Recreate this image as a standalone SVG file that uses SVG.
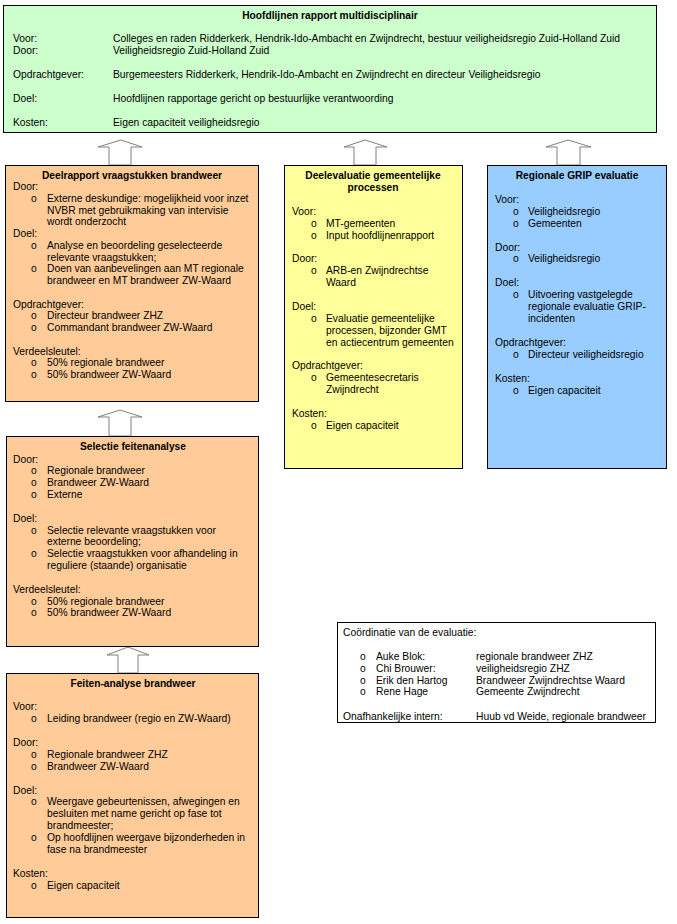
<svg xmlns="http://www.w3.org/2000/svg" width="677" height="924" viewBox="0 0 677 924">
<style>
text{font-family:"Liberation Sans",Arial,sans-serif;font-size:10.3px;fill:#000}
.t{font-weight:bold;text-anchor:middle;font-size:10.2px}
.box{stroke:#000;stroke-width:1}
.g{fill:#CCFFCC}.o{fill:#FFCC99}.y{fill:#FFFF99}.b{fill:#99CCFF}.w{fill:#fff}
.arr{fill:#fff;stroke:#808080;stroke-width:1}
</style>
<rect width="677" height="924" fill="#fff"/>
<g id="connectors">
<polygon class="arr" points="109,165 109,147 98,147 121,140 142,147 131,147 131,165"/>
<polygon class="arr" points="354,165 354,147 344,147 365,140 387,147 376,147 376,165"/>
<polygon class="arr" points="557,165 557,147 546,147 568,140 591,147 580,147 580,165"/>
<polygon class="arr" points="109,436 109,417 98,417 120,410 142,417 131,417 131,436"/>
<polygon class="arr" points="118,673 118,655 107,655 128,647 149,655 138,655 138,673"/>
</g>
<g id="hoofdlijnen">
<rect class="box g" x="3.5" y="5.5" width="653" height="127"/>
<text class="t" x="330" y="18.5">Hoofdlijnen rapport multidisciplinair</text>
<text x="13" y="41.5">Voor:</text><text x="113" y="41.5">Colleges en raden Ridderkerk, Hendrik-Ido-Ambacht en Zwijndrecht, bestuur veiligheidsregio Zuid-Holland Zuid</text>
<text x="13" y="53.5">Door:</text><text x="113" y="53.5">Veiligheidsregio Zuid-Holland Zuid</text>
<text x="13" y="77.5">Opdrachtgever:</text><text x="113" y="77.5">Burgemeesters Ridderkerk, Hendrik-Ido-Ambacht en Zwijndrecht en directeur Veiligheidsregio</text>
<text x="13" y="101.5">Doel:</text><text x="113" y="101.5">Hoofdlijnen rapportage gericht op bestuurlijke verantwoording</text>
<text x="13" y="125.5">Kosten:</text><text x="113" y="125.5">Eigen capaciteit veiligheidsregio</text>
</g>
<g id="deelrapport">
<rect class="box o" x="5.5" y="165.5" width="253" height="236"/>
<text class="t" x="132" y="178.5">Deelrapport vraagstukken brandweer</text>
<text x="13" y="190">Door:</text>
<text x="31" y="202">o</text><text x="47" y="202">Externe deskundige: mogelijkheid voor inzet</text>
<text x="47" y="213.5">NVBR met gebruikmaking van intervisie</text>
<text x="47" y="225">wordt onderzocht</text>
<text x="13" y="237">Doel:</text>
<text x="31" y="249">o</text><text x="47" y="249">Analyse en beoordeling geselecteerde</text>
<text x="47" y="260.5">relevante vraagstukken;</text>
<text x="31" y="272">o</text><text x="47" y="272">Doen van aanbevelingen aan MT regionale</text>
<text x="47" y="284">brandweer en MT brandweer ZW-Waard</text>
<text x="13" y="307.5">Opdrachtgever:</text>
<text x="31" y="319">o</text><text x="47" y="319">Directeur brandweer ZHZ</text>
<text x="31" y="331">o</text><text x="47" y="331">Commandant brandweer ZW-Waard</text>
<text x="13" y="354.5">Verdeelsleutel:</text>
<text x="31" y="366">o</text><text x="47" y="366">50% regionale brandweer</text>
<text x="31" y="378">o</text><text x="47" y="378">50% brandweer ZW-Waard</text>
</g>
<g id="deelevaluatie">
<rect class="box y" x="284.5" y="165.5" width="178" height="303"/>
<text class="t" x="373" y="178.5">Deelevaluatie gemeentelijke</text>
<text class="t" x="373" y="190.5">processen</text>
<text x="292" y="214.5">Voor:</text>
<text x="311" y="226.5">o</text><text x="326" y="226.5">MT-gemeenten</text>
<text x="311" y="238.5">o</text><text x="326" y="238.5">Input hoofdlijnenrapport</text>
<text x="292" y="261.5">Door:</text>
<text x="311" y="273.5">o</text><text x="326" y="273.5">ARB-en Zwijndrechtse</text>
<text x="326" y="285.5">Waard</text>
<text x="292" y="309.5">Doel:</text>
<text x="311" y="321.5">o</text><text x="326" y="321.5">Evaluatie gemeentelijke</text>
<text x="326" y="333.5">processen, bijzonder GMT</text>
<text x="326" y="345.5">en actiecentrum gemeenten</text>
<text x="292" y="368.5">Opdrachtgever:</text>
<text x="311" y="380.5">o</text><text x="326" y="380.5">Gemeentesecretaris</text>
<text x="326" y="392.5">Zwijndrecht</text>
<text x="292" y="416.5">Kosten:</text>
<text x="311" y="428.5">o</text><text x="326" y="428.5">Eigen capaciteit</text>
</g>
<g id="grip">
<rect class="box b" x="487.5" y="165.5" width="179" height="303"/>
<text class="t" x="577" y="178.5">Regionale GRIP evaluatie</text>
<text x="495" y="202.5">Voor:</text>
<text x="513" y="214.5">o</text><text x="528" y="214.5">Veiligheidsregio</text>
<text x="513" y="226.5">o</text><text x="528" y="226.5">Gemeenten</text>
<text x="495" y="250.5">Door:</text>
<text x="513" y="261.5">o</text><text x="528" y="261.5">Veiligheidsregio</text>
<text x="495" y="285.5">Doel:</text>
<text x="513" y="297.5">o</text><text x="528" y="297.5">Uitvoering vastgelegde</text>
<text x="528" y="309.5">regionale evaluatie GRIP-</text>
<text x="528" y="321.5">incidenten</text>
<text x="495" y="345.5">Opdrachtgever:</text>
<text x="513" y="357.5">o</text><text x="528" y="357.5">Directeur veiligheidsregio</text>
<text x="495" y="381.5">Kosten:</text>
<text x="513" y="393.5">o</text><text x="528" y="393.5">Eigen capaciteit</text>
</g>
<g id="selectie">
<rect class="box o" x="6.5" y="436.5" width="252" height="210"/>
<text class="t" x="133" y="449.5">Selectie feitenanalyse</text>
<text x="13" y="462.5">Door:</text>
<text x="31" y="473.5">o</text><text x="47" y="473.5">Regionale brandweer</text>
<text x="31" y="485.5">o</text><text x="47" y="485.5">Brandweer ZW-Waard</text>
<text x="31" y="497.5">o</text><text x="47" y="497.5">Externe</text>
<text x="13" y="521.5">Doel:</text>
<text x="31" y="533.5">o</text><text x="47" y="533.5">Selectie relevante vraagstukken voor</text>
<text x="47" y="544.5">externe beoordeling;</text>
<text x="31" y="556.5">o</text><text x="47" y="556.5">Selectie vraagstukken voor afhandeling in</text>
<text x="47" y="568.5">reguliere (staande) organisatie</text>
<text x="13" y="592.5">Verdeelsleutel:</text>
<text x="31" y="604.5">o</text><text x="47" y="604.5">50% regionale brandweer</text>
<text x="31" y="615.5">o</text><text x="47" y="615.5">50% brandweer ZW-Waard</text>
</g>
<g id="feiten">
<rect class="box o" x="6.5" y="673.5" width="252" height="244"/>
<text class="t" x="133" y="686.5">Feiten-analyse brandweer</text>
<text x="13" y="709.5">Voor:</text>
<text x="31" y="721.5">o</text><text x="47" y="721.5">Leiding brandweer (regio en ZW-Waard)</text>
<text x="13" y="745.5">Door:</text>
<text x="31" y="757.5">o</text><text x="47" y="757.5">Regionale brandweer ZHZ</text>
<text x="31" y="769.5">o</text><text x="47" y="769.5">Brandweer ZW-Waard</text>
<text x="13" y="793.5">Doel:</text>
<text x="31" y="804.5">o</text><text x="47" y="804.5">Weergave gebeurtenissen, afwegingen en</text>
<text x="47" y="816.5">besluiten met name gericht op fase tot</text>
<text x="47" y="828.5">brandmeester;</text>
<text x="31" y="840.5">o</text><text x="47" y="840.5">Op hoofdlijnen weergave bijzonderheden in</text>
<text x="47" y="852.5">fase na brandmeester</text>
<text x="13" y="876.5">Kosten:</text>
<text x="31" y="888.5">o</text><text x="47" y="888.5">Eigen capaciteit</text>
</g>
<g id="coordinatie">
<rect class="box w" x="337.5" y="622.5" width="318" height="100"/>
<text x="343" y="635.5">Coördinatie van de evaluatie:</text>
<text x="360" y="659.5">o</text><text x="376" y="659.5">Auke Blok:</text><text x="476" y="659.5">regionale brandweer ZHZ</text>
<text x="360" y="671.5">o</text><text x="376" y="671.5">Chi Brouwer:</text><text x="476" y="671.5">veiligheidsregio ZHZ</text>
<text x="360" y="683.5">o</text><text x="376" y="683.5">Erik den Hartog</text><text x="476" y="683.5">Brandweer Zwijndrechtse Waard</text>
<text x="360" y="694.5">o</text><text x="376" y="694.5">Rene Hage</text><text x="476" y="694.5">Gemeente Zwijndrecht</text>
<text x="343" y="719.5">Onafhankelijke intern:</text><text x="476" y="719.5">Huub vd Weide, regionale brandweer</text>
</g>
</svg>
